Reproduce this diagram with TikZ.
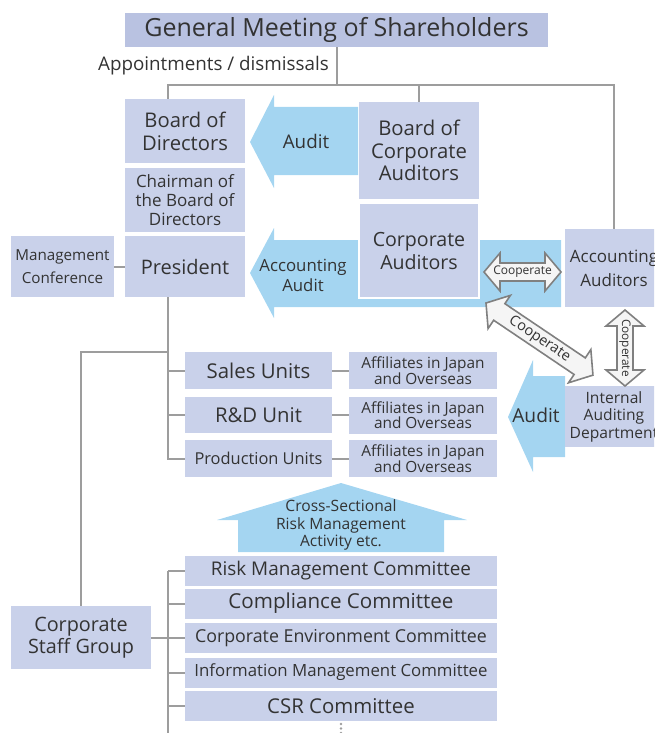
\documentclass[tikz,border=0pt]{standalone}
\usepackage{fontspec}
\setmainfont{Open Sans}
\definecolor{boxfill}{HTML}{C9D1EA}
\definecolor{topfill}{HTML}{B9C2E1}
\definecolor{arrowblue}{HTML}{A4D5F1}
\definecolor{linegray}{HTML}{9D9D9D}
\definecolor{txt}{HTML}{333333}
\definecolor{coopfill}{HTML}{F5F5F5}
\definecolor{coopline}{HTML}{808080}
\newcommand{\fs}[2]{\fontsize{#1}{#2}\selectfont}
% double arrow along x: length, head half width, shaft half width
\newcommand{\cooparrow}[3]{%
  \draw[coop] (0,0) -- (16,-#2) -- (16,-#3) -- ({#1-16},-#3) -- ({#1-16},-#2) -- (#1,0)
    -- ({#1-16},#2) -- ({#1-16},#3) -- (16,#3) -- (16,#2) -- cycle;}
\tikzset{
  box/.style={fill=boxfill, text=txt, align=center, inner sep=0pt},
  lbl/.style={text=txt, align=center, inner sep=0pt},
  conn/.style={draw=linegray, line width=2pt},
  blockarrow/.style={fill=arrowblue},
  coop/.style={fill=coopfill, draw=coopline, line width=1.6pt}
}
\begin{document}
\begin{tikzpicture}[x=1pt,y=-1pt]
\useasboundingbox (0,0) rectangle (654,733);
\clip (0,0) rectangle (654,733);

% audit arrows
\fill[blockarrow] (250,142) -- (274,95) -- (274,107) -- (358,107) -- (358,175) -- (274,175) -- (274,188) -- cycle;
\fill[blockarrow] (250,273) -- (274,228) -- (274,240) -- (561,240) -- (561,307) -- (274,307) -- (274,318) -- cycle;
\fill[blockarrow] (508,417) -- (533,360) -- (533,376) -- (565,376) -- (565,457) -- (533,457) -- (533,472) -- cycle;
\fill[blockarrow] (341,483) -- (467,520) -- (444,520) -- (444,552) -- (238,552) -- (238,520) -- (217,520) -- cycle;

% boxes
\node[box, fill=topfill, font=\fs{25}{28}, minimum width=423, minimum height=34] (gms) at (336.5,30) {General Meeting of Shareholders};
\node[lbl, anchor=east, font=\fs{18.8}{20}] (appt) at (329,66) {Appointments / dismissals};
\node[box, font=\fs{20.2}{23}, minimum width=120, minimum height=64] (bod) at (185,131) {Board of\\Directors};
\node[box, font=\fs{17}{19}, minimum width=120, minimum height=64] (chair) at (185,200) {Chairman of\\the Board of\\Directors};
\node[box, font=\fs{20}{22}, minimum width=120, minimum height=61] (pres) at (185,266.5) {President};
\node[box, font=\fs{15.2}{23}, minimum width=103, minimum height=61] (mc) at (62.5,266.5) {Management\\Conference};
\node[box, font=\fs{20.3}{22.5}, minimum width=120, minimum height=97] (bca) at (419,150.5) {Board of\\Corporate\\Auditors};
\node[box, draw=white, line width=2pt, font=\fs{19.6}{23}, minimum width=120, minimum height=95] (ca) at (419,250.5) {Corporate\\Auditors};
\node[box, font=\fs{17}{24}, minimum width=98, minimum height=78] (aa) at (614,268) {Accounting\\Auditors};
\node[box, font=\fs{15.6}{17.5}, minimum width=98, minimum height=61] (iad) at (614,416.5) {Internal\\Auditing\\Department};

\node[box, font=\fs{20.4}{22}, minimum width=147, minimum height=37] (su) at (258.5,370.5) {Sales Units};
\node[box, font=\fs{20.3}{22}, minimum width=147, minimum height=36] (rd) at (258.5,415) {R\&D Unit};
\node[box, font=\fs{16.4}{19}, minimum width=147, minimum height=37] (pu) at (258.5,458.5) {Production Units};
\foreach \n/\y in {1/370.5,2/415,3/458.5}
  \node[box, font=\fs{15.4}{15.5}, minimum width=148, minimum height=37] (aff\n) at (423,\y) {Affiliates in Japan\\and Overseas};

\node[box, font=\fs{19.8}{21.5}, minimum width=140, minimum height=63] (csg) at (81,637.5) {Corporate\\Staff Group};

% arrow labels
\node[lbl, font=\fs{18.8}{22}] (audit1) at (306,141) {Audit};
\node[lbl, font=\fs{16.8}{20}] (audit2) at (303,275) {Accounting\\Audit};
\node[lbl, font=\fs{19.2}{22}] (audit3) at (536,415) {Audit};
\node[lbl, font=\fs{15.6}{17.5}] (cross) at (341,525) {Cross-Sectional\\Risk Management\\Activity etc.};

% cooperate arrows
\begin{scope}[shift={(484,272)}]
  \cooparrow{77}{19}{9}
  \node[lbl, font=\fs{12}{13}] (coop1) at (38.5,-0.5) {Cooperate};
\end{scope}
\begin{scope}[shift={(486,303)}, rotate=-34]
  \cooparrow{129}{20}{10}
  \node[lbl, font=\fs{14.5}{16}, rotate=-34] (coop2) at (64.5,0) {Cooperate};
\end{scope}
\begin{scope}[shift={(625,310)}, rotate=-90]
  \cooparrow{76}{19}{8}
  \node[lbl, font=\fs{11.8}{13}, rotate=-90] (coop3) at (38,0) {Cooperate};
\end{scope}

% connectors
\coordinate (spine) at (168,0);
\coordinate (split) at (336,85);
\coordinate (fork) at (168,352);
\coordinate (bottom) at (168,740);
\draw[conn] (gms.south) -- (gms.south |- split);
\draw[conn] (bod.north -| spine) |- (split) -| (aa.north);
\draw[conn] (bca.north) -- (bca.north |- split);
\draw[conn] (mc.east) -- (pres.west);
\draw[conn] (pres.south -| spine) -- (pu.west -| spine) -- (pu.west);
\draw[conn] (su.west -| spine) -- (su.west);
\draw[conn] (rd.west -| spine) -- (rd.west);
\draw[conn] (fork) -| (csg.north);
\foreach \u/\n in {su/1,rd/2,pu/3}
  \draw[conn] (\u.east) -- (aff\n.west);

% committees
\foreach \n/\y/\s/\t in {risk/570.5/18.9/Risk Management Committee,
    comp/603.5/20.6/Compliance Committee,
    env/638/17.8/Corporate Environment Committee,
    info/672.5/16.8/Information Management Committee,
    csr/706/20.4/CSR Committee} {
  \node[box, font=\fs{\s}{\s}, minimum width=312, minimum height=30] (\n) at (341,\y) {\t};
  \draw[conn] (\n.west -| spine) -- (\n.west);
}
\draw[conn] (risk.west -| spine) -- (bottom);
\draw[conn] (csg.east) -- (csg.east -| spine);
\foreach \y in {724,728.5,733}
  \fill[linegray] (341,\y) circle (1.3);
\end{tikzpicture}
\end{document}
